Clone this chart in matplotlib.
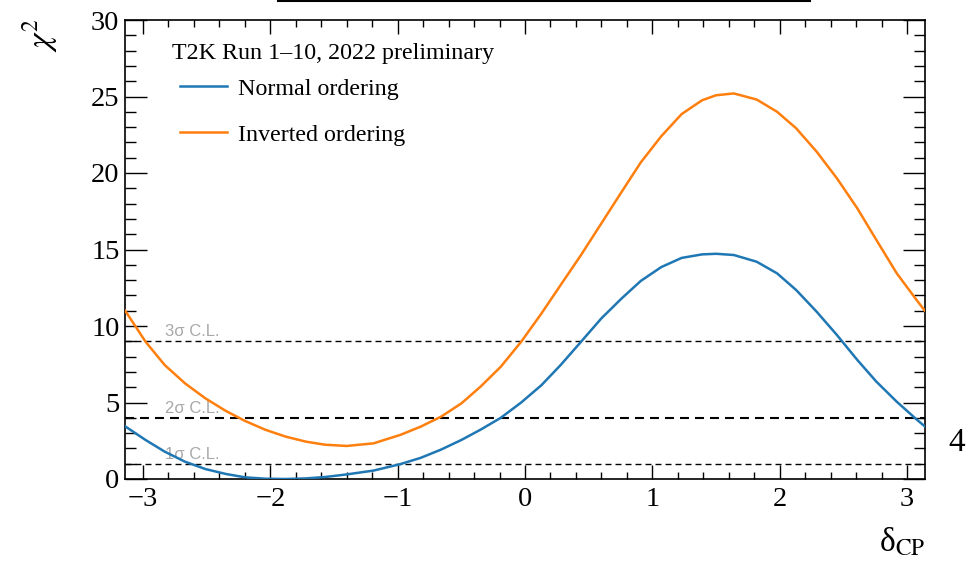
import numpy as np
import matplotlib
matplotlib.use("Agg")
import matplotlib.pyplot as plt
from matplotlib.lines import Line2D
from matplotlib.ticker import MultipleLocator

plt.rcParams['font.family'] = ['Liberation Serif', 'DejaVu Serif']
plt.rcParams['mathtext.fontset'] = 'stix'

# delta_CP scan points and chi2 for each mass ordering
delta_cp = [-3.14, -2.98, -2.83, -2.67, -2.51, -2.35, -2.20, -2.04, -1.88, -1.72,
            -1.57, -1.40, -1.19, -0.98, -0.82, -0.66, -0.50, -0.35, -0.19, -0.03,
            0.13, 0.28, 0.44, 0.60, 0.76, 0.91, 1.07, 1.23, 1.39, 1.50,
            1.64, 1.82, 1.98, 2.13, 2.29, 2.45, 2.61, 2.76, 2.92, 3.08, 3.14]
chi2_normal = [3.44, 2.55, 1.79, 1.13, 0.65, 0.33, 0.11, 0.02, 0.0, 0.04,
               0.13, 0.30, 0.55, 0.97, 1.38, 1.92, 2.55, 3.22, 4.0, 5.0,
               6.14, 7.45, 8.97, 10.5, 11.81, 12.95, 13.85, 14.45, 14.68, 14.72,
               14.64, 14.2, 13.44, 12.35, 10.94, 9.41, 7.78, 6.36, 5.05, 3.86, 3.44]
chi2_inverted = [11.0, 8.97, 7.45, 6.25, 5.27, 4.45, 3.8, 3.22, 2.77, 2.44,
                 2.24, 2.16, 2.33, 2.88, 3.42, 4.07, 4.94, 6.03, 7.34, 8.97,
                 10.83, 12.68, 14.64, 16.71, 18.78, 20.7, 22.4, 23.85, 24.75, 25.08,
                 25.2, 24.8, 24.0, 22.92, 21.4, 19.65, 17.69, 15.62, 13.44, 11.65, 11.0]

# confidence level thresholds
cl_levels = [1, 4, 9]
cl_labels = ['1σ C.L.', '2σ C.L.', '3σ C.L.']
cl_widths = [1.0, 1.5, 1.0]

fig = plt.figure(figsize=(9.68, 5.62), dpi=100)
ax = fig.add_axes([125/968, 83/562, 800/968, 459/562])

for lvl, lab, lw in zip(cl_levels, cl_labels, cl_widths):
    ax.axhline(lvl, color='black', lw=lw, ls=(0, (4.3, 2.9)), zorder=1)
    ax.text(-2.83, lvl + 0.12, lab, color='#a8a8a8', fontsize=12,
            family=['Liberation Sans', 'DejaVu Sans'], ha='left',
            va='bottom', zorder=1)

l_no, = ax.plot(delta_cp, chi2_normal, color='#1f77b4', lw=1.8, zorder=3,
                solid_joinstyle='round')
l_io, = ax.plot(delta_cp, chi2_inverted, color='#ff7f0e', lw=1.8, zorder=3,
                solid_joinstyle='round')

ax.set_xlim(-np.pi, np.pi)
ax.set_ylim(0, 30)

ax.xaxis.set_major_locator(MultipleLocator(1))
ax.xaxis.set_minor_locator(MultipleLocator(0.2))
ax.yaxis.set_major_locator(MultipleLocator(5))
ax.yaxis.set_minor_locator(MultipleLocator(1))
ax.tick_params(which='both', direction='in', top=True, right=True,
               labelsize=20.5, width=1.0)
ax.tick_params(axis='x', which='major', length=10, pad=6)
ax.tick_params(axis='x', which='minor', length=5)
ax.tick_params(axis='y', which='major', length=16, pad=4)
ax.tick_params(axis='y', which='minor', length=8)
for s in ax.spines.values():
    s.set_linewidth(1.2)

ax.text(172/968, 1 - 54/562, 'T2K Run 1–10, 2022 preliminary', fontsize=17.3,
        transform=fig.transFigure, ha='left', va='center')
ax.legend([l_no, l_io], ['Normal ordering', 'Inverted ordering'],
          loc='upper left', bbox_to_anchor=(180/968, 1 - 78/562),
          bbox_transform=fig.transFigure, frameon=False, fontsize=17.3,
          handlelength=1.95, handletextpad=0.45, labelspacing=1.0,
          borderpad=0, borderaxespad=0)

fig.text(40/968, 1 - 18/562, r'$\chi^{2}$', fontsize=24, rotation=90,
         ha='center', va='top')
fig.text(925/968, 1 - 526/562, r'δ$_{\mathrm{CP}}$', fontsize=24,
         ha='right', va='top')
fig.text(957/968, 1 - 443/562, '4', fontsize=24, ha='center', va='center')

fig.add_artist(Line2D([278/968, 810/968], [1 - 1/562, 1 - 1/562],
                      color='black', lw=1.5, transform=fig.transFigure))

fig.savefig('out.png', dpi=100)
